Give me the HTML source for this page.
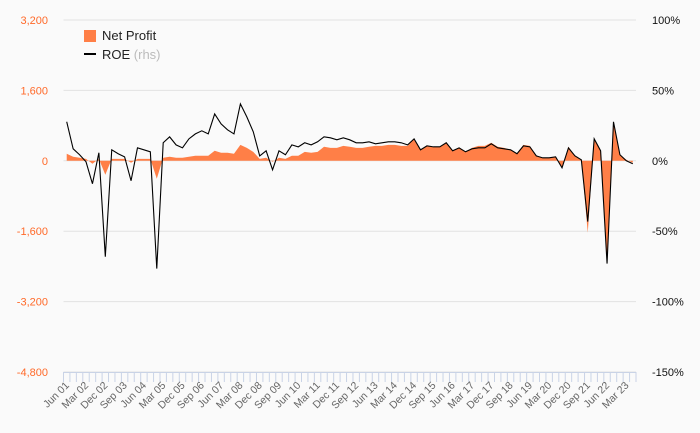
<!DOCTYPE html>
<html><head><meta charset="utf-8"><style>
body{margin:0;background:#fafafa;}
svg{display:block;font-family:"Liberation Sans","DejaVu Sans",sans-serif;}
</style></head><body>
<svg id="chart" width="700" height="433">
<rect width="700" height="433" fill="#fafafa"/>
<g id="grid"></g>
<g id="yl"></g>
<g id="yr"></g>
<g id="xa"></g>
<g id="series"></g>
<g>
<rect x="84" y="30" width="12" height="12" fill="#ff7f47"/>
<text x="102" y="40" font-size="13" fill="#222">Net Profit</text>
<line x1="84" y1="54" x2="96" y2="54" stroke="#000" stroke-width="2"/>
<text x="102" y="59" font-size="13" fill="#222">ROE <tspan fill="#bbb">(rhs)</tspan></text>
</g>
</svg>
<script>
const quarters=["Jun","Sep","Dec","Mar"];
const netProfit=[159,91,68,45,-68,45,-318,45,45,45,-45,45,45,45,-408,68,91,68,68,91,114,114,114,227,182,182,159,363,295,204,45,68,-23,68,45,114,114,204,182,204,318,295,295,340,318,295,295,318,340,340,363,363,340,340,499,250,340,318,318,409,227,295,204,295,340,340,409,318,295,250,159,363,340,114,68,68,91,-159,318,114,23,-1634,499,227,-2338,885,136,23,-45];
const roe=[27.7,8.5,4.3,-0.7,-16.3,5.7,-68.1,7.8,5.0,2.8,-14.2,9.2,7.8,6.4,-76.6,12.8,17.0,11.3,9.2,15.6,19.1,21.3,19.1,33.3,26.2,22.0,19.1,40.4,31.2,20.6,3.5,7.1,-6.4,7.1,4.3,11.3,9.9,12.8,11.3,13.5,17.0,16.3,14.9,16.3,14.9,12.8,12.8,13.5,12.1,12.8,13.5,13.5,12.8,11.3,15.6,7.8,10.6,9.9,9.9,12.8,7.1,9.2,6.4,8.5,9.2,9.2,12.1,9.2,8.5,7.8,5.0,10.6,9.9,3.5,2.1,2.1,2.8,-5.0,9.2,3.5,0.7,-43.2,15.6,7.1,-73.0,27.7,4.3,0,-2.1];
const leftTicks=[3200,1600,0,-1600,-3200,-4800];
const rightTicks=[100,50,0,-50,-100,-150];
const categories=roe.map((_,i)=>{const q=i%4;const y=1+Math.floor((i+(q===3?0:0))/4)+(q===3?1:0);return quarters[q]+" "+String(y).padStart(2,"0");});
const NS="http://www.w3.org/2000/svg";
const X0=63.5,X1=636,Y0=20,Y1=372;
const bw=(X1-X0)/categories.length;
const x=i=>X0+bw*(i+0.5);
const yL=v=>Y0+(3200-v)/8000*(Y1-Y0);
const yR=v=>Y0+(100-v)/250*(Y1-Y0);
function mk(tag,attrs,parent){const e=document.createElementNS(NS,tag);for(const k in attrs)e.setAttribute(k,attrs[k]);parent.appendChild(e);return e;}
const grid=document.getElementById("grid"),yl=document.getElementById("yl"),yr=document.getElementById("yr"),xa=document.getElementById("xa"),ser=document.getElementById("series");
leftTicks.forEach(t=>{
  const g=mk("line",{x1:X0,x2:X1,y1:yL(t),y2:yL(t),stroke:"#e2e2e2","stroke-width":1},grid);
  
  
  const tx=mk("text",{x:48,y:yL(t)+4,"text-anchor":"end","font-size":11,fill:"#ff6a2a"},yl);
  tx.textContent=t.toLocaleString("en-US");
  
  
});
rightTicks.forEach(t=>{
  const tx=mk("text",{x:652,y:yR(t)+4,"font-size":11,fill:"#111"},yr);
  tx.textContent=t+"%";
  
  
});
mk("line",{x1:X0,x2:X1,y1:Y1+0.5,y2:Y1+0.5,stroke:"#c9d3e6"},xa);
for(let i=0;i<=categories.length;i++){mk("line",{x1:X0+bw*i,x2:X0+bw*i,y1:Y1,y2:Y1+10,stroke:"#c9d3e6"},xa);}
categories.forEach((c,i)=>{
  if(i%3!==0)return;
  const tx=mk("text",{x:x(i)+3,y:Y1+14,"text-anchor":"end","font-size":10.5,fill:"#666",transform:`rotate(-45 ${x(i)+3} ${Y1+14})`},xa);
  tx.textContent=c;
  
  
});
let d=`M${x(0)},${yL(0)}`;netProfit.forEach((v,i)=>d+=`L${x(i)},${yL(v)}`);d+=`L${x(netProfit.length-1)},${yL(0)}Z`;
const area=mk("path",{d:d,fill:"#ff7f47"},ser);


const line=mk("polyline",{points:roe.map((v,i)=>x(i)+","+yR(v)).join(" "),fill:"none",stroke:"#000","stroke-width":1.1},ser);


</script>
</body></html>
